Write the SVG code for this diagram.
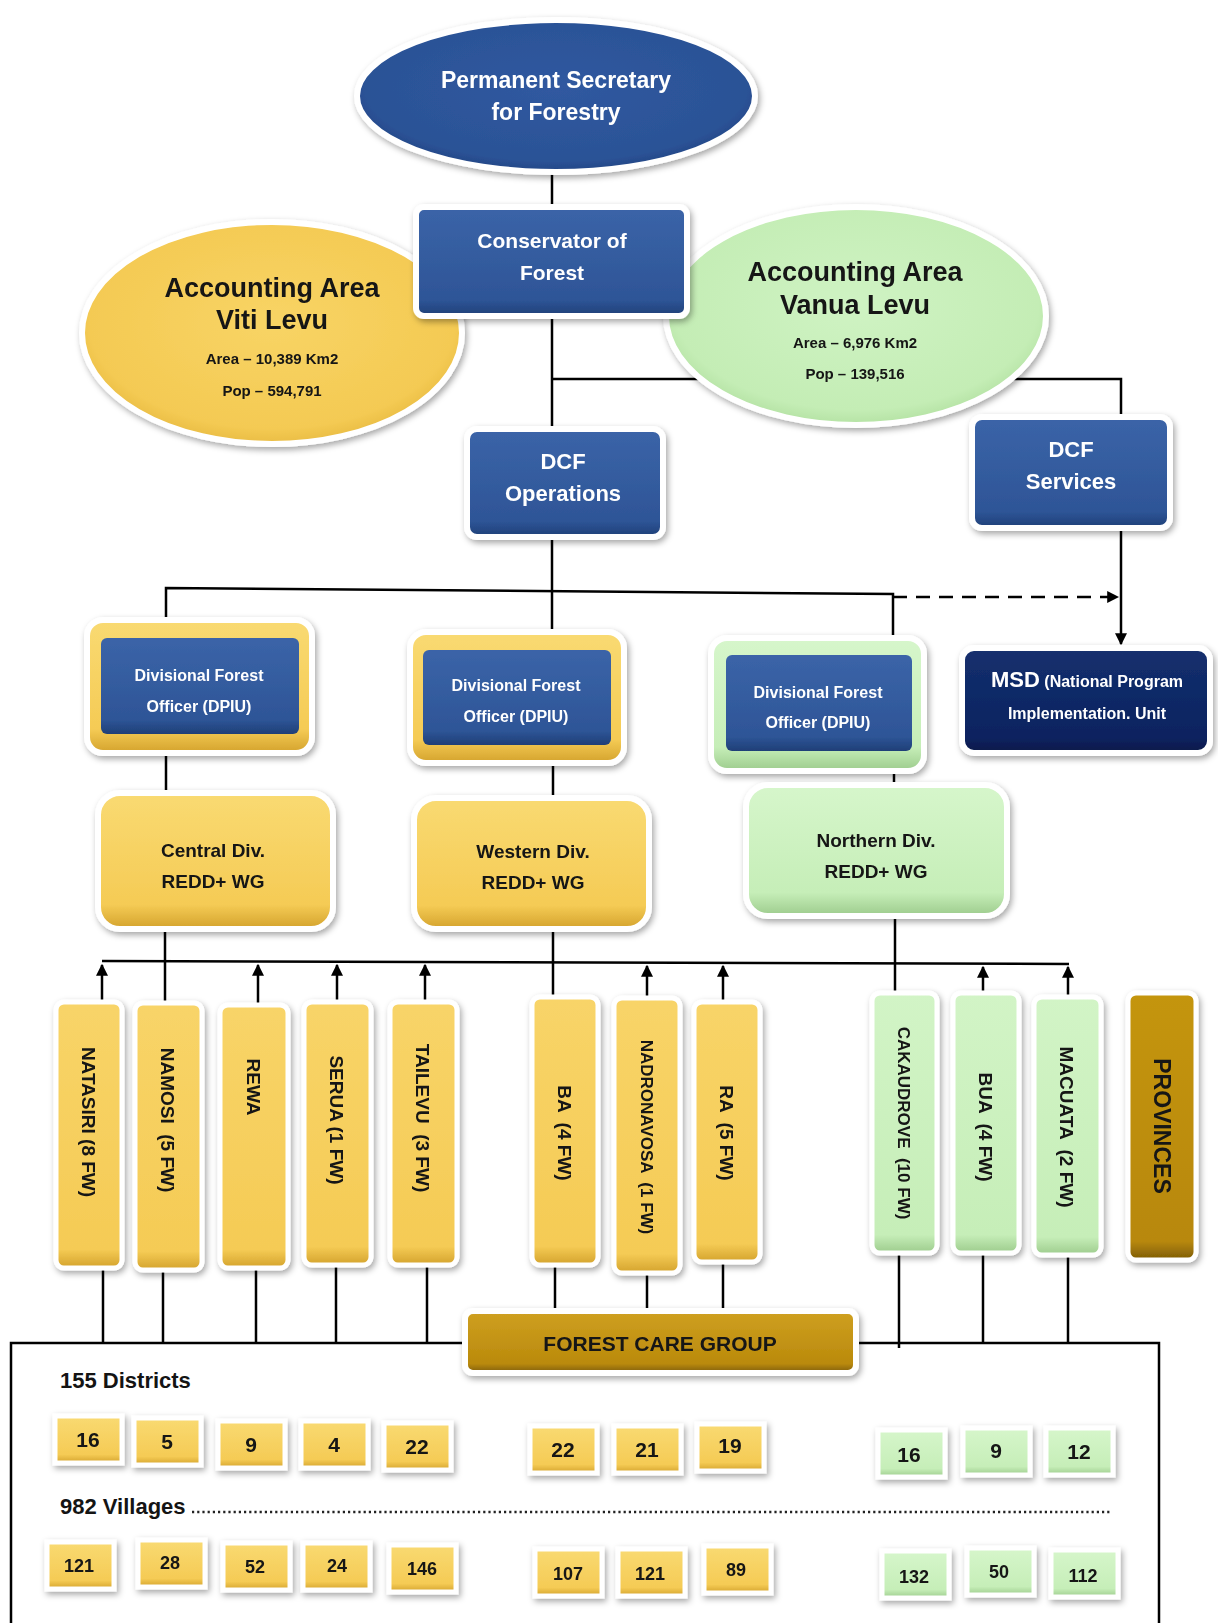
<svg xmlns="http://www.w3.org/2000/svg" width="1218" height="1623" viewBox="0 0 1218 1623">
<defs>
<style>
.t{font-family:"Liberation Sans",Arial,sans-serif;font-weight:bold;text-anchor:middle}
.w{fill:#ffffff}
.k{fill:#141414}
.ln{stroke:#000;stroke-width:2.5;fill:none}
.bd{stroke:#ffffff;stroke-width:6}
.bx{stroke:#ffffff;stroke-width:5}
</style>
<filter id="sh" x="-20%" y="-20%" width="140%" height="140%">
<feDropShadow dx="2" dy="3" stdDeviation="3" flood-color="#000" flood-opacity="0.35"/>
</filter>
<linearGradient id="gBlue" x1="0" y1="0" x2="0" y2="1">
<stop offset="0" stop-color="#3B64A8"/><stop offset="0.85" stop-color="#2E5597"/><stop offset="1" stop-color="#1F3F77"/>
</linearGradient>
<linearGradient id="gNavy" x1="0" y1="0" x2="0" y2="1">
<stop offset="0" stop-color="#14306E"/><stop offset="0.85" stop-color="#0B2360"/><stop offset="1" stop-color="#061848"/>
</linearGradient>
<linearGradient id="gYel" x1="0" y1="0" x2="0" y2="1">
<stop offset="0" stop-color="#F9DA72"/><stop offset="0.82" stop-color="#F5CB55"/><stop offset="1" stop-color="#D3A22C"/>
</linearGradient>
<linearGradient id="gYelT" x1="0" y1="0" x2="0" y2="1">
<stop offset="0" stop-color="#F8D468"/><stop offset="0.93" stop-color="#F5CB55"/><stop offset="1" stop-color="#D3A22C"/>
</linearGradient>
<linearGradient id="gGrn" x1="0" y1="0" x2="0" y2="1">
<stop offset="0" stop-color="#D6F6CB"/><stop offset="0.82" stop-color="#C6EEB8"/><stop offset="1" stop-color="#9CCB8C"/>
</linearGradient>
<linearGradient id="gGrnT" x1="0" y1="0" x2="0" y2="1">
<stop offset="0" stop-color="#D2F4C6"/><stop offset="0.93" stop-color="#C6EEB8"/><stop offset="1" stop-color="#9CCB8C"/>
</linearGradient>
<linearGradient id="gGold" x1="0" y1="0" x2="0" y2="1">
<stop offset="0" stop-color="#CFA021"/><stop offset="0.85" stop-color="#BA8A0C"/><stop offset="1" stop-color="#7C5B05"/>
</linearGradient>
<linearGradient id="gGoldT" x1="0" y1="0" x2="0" y2="1">
<stop offset="0" stop-color="#C4950F"/><stop offset="0.93" stop-color="#B8880B"/><stop offset="1" stop-color="#7C5B05"/>
</linearGradient>
<radialGradient id="rBlue" cx="0.5" cy="0.45" r="0.6">
<stop offset="0" stop-color="#3059A0"/><stop offset="0.8" stop-color="#2B5296"/><stop offset="1" stop-color="#1E3E78"/>
</radialGradient>
<radialGradient id="rYel" cx="0.5" cy="0.45" r="0.6">
<stop offset="0" stop-color="#F8D465"/><stop offset="0.8" stop-color="#F4CA53"/><stop offset="1" stop-color="#E2B33A"/>
</radialGradient>
<radialGradient id="rGrn" cx="0.5" cy="0.45" r="0.6">
<stop offset="0" stop-color="#CFF3C3"/><stop offset="0.8" stop-color="#C4EDB5"/><stop offset="1" stop-color="#A9DA97"/>
</radialGradient>
<marker id="arr" viewBox="0 0 10 10" refX="9" refY="5" markerUnits="userSpaceOnUse" markerWidth="12" markerHeight="12" orient="auto">
<path d="M0,0 L10,5 L0,10 z" fill="#000"/>
</marker>
</defs>
<rect width="1218" height="1623" fill="#ffffff"/>

<g id="connectors">
<line class="ln" x1="552" y1="170" x2="552" y2="207"/>
<line class="ln" x1="552" y1="316" x2="552" y2="429"/>
<polyline class="ln" points="552,379 1121,379 1121,417"/>
<line class="ln" x1="552" y1="537" x2="552" y2="632"/>
<polyline class="ln" points="166,620 166,588 893,594 893,638" stroke-width="3"/>
<line class="ln" x1="893" y1="597" x2="1118" y2="597" stroke-width="4" stroke-dasharray="14 9" marker-end="url(#arr)"/>
<line class="ln" x1="1121" y1="528" x2="1121" y2="644" marker-end="url(#arr)"/>
<line class="ln" x1="166" y1="753" x2="166" y2="793"/>
<line class="ln" x1="553" y1="763" x2="553" y2="798"/>
<line class="ln" x1="894" y1="771" x2="894" y2="785"/>
<line class="ln" x1="165" y1="929" x2="165" y2="1003"/>
<line class="ln" x1="553" y1="929" x2="553" y2="998"/>
<line class="ln" x1="895" y1="916" x2="895" y2="993"/>
<line class="ln" x1="102" y1="961" x2="1069" y2="964" stroke-width="3.5"/>
<line class="ln" x1="102" y1="1002" x2="102" y2="965" marker-end="url(#arr)"/>
<line class="ln" x1="258" y1="1004" x2="258" y2="965" marker-end="url(#arr)"/>
<line class="ln" x1="337" y1="1002" x2="337" y2="965" marker-end="url(#arr)"/>
<line class="ln" x1="425" y1="1002" x2="425" y2="965" marker-end="url(#arr)"/>
<line class="ln" x1="647" y1="998" x2="647" y2="966" marker-end="url(#arr)"/>
<line class="ln" x1="723" y1="1002" x2="723" y2="966" marker-end="url(#arr)"/>
<line class="ln" x1="983" y1="993" x2="983" y2="967" marker-end="url(#arr)"/>
<line class="ln" x1="1068" y1="997" x2="1068" y2="967" marker-end="url(#arr)"/>
<line class="ln" x1="103" y1="1268" x2="103" y2="1343"/>
<line class="ln" x1="163" y1="1270" x2="163" y2="1343"/>
<line class="ln" x1="256" y1="1268" x2="256" y2="1343"/>
<line class="ln" x1="336" y1="1265" x2="336" y2="1343"/>
<line class="ln" x1="427" y1="1265" x2="427" y2="1343"/>
<line class="ln" x1="555" y1="1265" x2="555" y2="1312"/>
<line class="ln" x1="647" y1="1273" x2="647" y2="1312"/>
<line class="ln" x1="723" y1="1262" x2="723" y2="1312"/>
<line class="ln" x1="899" y1="1253" x2="899" y2="1348"/>
<line class="ln" x1="983" y1="1253" x2="983" y2="1343"/>
<line class="ln" x1="1068" y1="1255" x2="1068" y2="1343"/>
<path class="ln" d="M11,1640 L11,1343 L1159,1343 L1159,1640"/>
</g>

<g id="viti-levu" filter="url(#sh)">
<ellipse cx="272" cy="333" rx="190" ry="111" fill="url(#rYel)" class="bd"/>
<text class="t k" x="272" y="297" font-size="27">Accounting Area</text>
<text class="t k" x="272" y="329" font-size="27">Viti Levu</text>
<text class="t k" x="272" y="364" font-size="15">Area – 10,389 Km2</text>
<text class="t k" x="272" y="396" font-size="15">Pop – 594,791</text>
</g>
<g id="vanua-levu" filter="url(#sh)">
<ellipse cx="856" cy="316" rx="190" ry="109" fill="url(#rGrn)" class="bd"/>
<text class="t k" x="855" y="281" font-size="27">Accounting Area</text>
<text class="t k" x="855" y="314" font-size="27">Vanua Levu</text>
<text class="t k" x="855" y="348" font-size="15">Area – 6,976 Km2</text>
<text class="t k" x="855" y="379" font-size="15">Pop – 139,516</text>
</g>
<g id="perm-sec" filter="url(#sh)">
<ellipse cx="556" cy="96" rx="199" ry="76" fill="url(#rBlue)" class="bd"/>
<text class="t w" x="556" y="88" font-size="23">Permanent Secretary</text>
<text class="t w" x="556" y="120" font-size="23">for Forestry</text>
</g>
<g id="conservator" filter="url(#sh)">
<rect x="416" y="207" width="271" height="109" rx="8" fill="url(#gBlue)" class="bd"/>
<text class="t w" x="552" y="248" font-size="21">Conservator of</text>
<text class="t w" x="552" y="280" font-size="21">Forest</text>
</g>
<g id="dcf-operations" filter="url(#sh)">
<rect x="467" y="429" width="196" height="108" rx="10" fill="url(#gBlue)" class="bd"/>
<text class="t w" x="563" y="469" font-size="22">DCF</text>
<text class="t w" x="563" y="501" font-size="22">Operations</text>
</g>
<g id="dcf-services" filter="url(#sh)">
<rect x="972" y="417" width="198" height="111" rx="10" fill="url(#gBlue)" class="bd"/>
<text class="t w" x="1071" y="457" font-size="22">DCF</text>
<text class="t w" x="1071" y="489" font-size="22">Services</text>
</g>
<g id="msd" filter="url(#sh)">
<rect x="962" y="648" width="248" height="105" rx="12" fill="url(#gNavy)" class="bd"/>
<text class="t w" x="1087" y="687" font-size="16"><tspan font-size="22">MSD</tspan> (National Program</text>
<text class="t w" x="1087" y="719" font-size="16">Implementation. Unit</text>
</g>
<g id="dfo-central" filter="url(#sh)">
<rect x="87" y="620" width="225" height="133" rx="16" fill="url(#gYel)" class="bd"/>
<rect x="101" y="638" width="198" height="96" rx="6" fill="url(#gBlue)"/>
<text class="t w" x="199" y="681" font-size="16">Divisional Forest</text>
<text class="t w" x="199" y="712" font-size="16">Officer (DPIU)</text>
</g>
<g id="dfo-western" filter="url(#sh)">
<rect x="410" y="632" width="214" height="131" rx="16" fill="url(#gYel)" class="bd"/>
<rect x="423" y="650" width="188" height="95" rx="6" fill="url(#gBlue)"/>
<text class="t w" x="516" y="691" font-size="16">Divisional Forest</text>
<text class="t w" x="516" y="722" font-size="16">Officer (DPIU)</text>
</g>
<g id="dfo-northern" filter="url(#sh)">
<rect x="711" y="638" width="213" height="133" rx="16" fill="url(#gGrn)" class="bd"/>
<rect x="726" y="655" width="186" height="96" rx="6" fill="url(#gBlue)"/>
<text class="t w" x="818" y="698" font-size="16">Divisional Forest</text>
<text class="t w" x="818" y="728" font-size="16">Officer (DPIU)</text>
</g>
<g id="central-div" filter="url(#sh)">
<rect x="98" y="793" width="235" height="136" rx="22" fill="url(#gYel)" class="bd"/>
<text class="t k" x="213" y="857" font-size="19">Central Div.</text>
<text class="t k" x="213" y="888" font-size="19">REDD+ WG</text>
</g>
<g id="western-div" filter="url(#sh)">
<rect x="414" y="798" width="235" height="131" rx="22" fill="url(#gYel)" class="bd"/>
<text class="t k" x="533" y="858" font-size="19">Western Div.</text>
<text class="t k" x="533" y="889" font-size="19">REDD+ WG</text>
</g>
<g id="northern-div" filter="url(#sh)">
<rect x="746" y="785" width="261" height="131" rx="22" fill="url(#gGrn)" class="bd"/>
<text class="t k" x="876" y="847" font-size="19">Northern Div.</text>
<text class="t k" x="876" y="878" font-size="19">REDD+ WG</text>
</g>

<g id="natasiri" filter="url(#sh)">
<rect x="56" y="1002" width="66" height="266" rx="8" fill="url(#gYelT)" class="bx"/>
<text class="t k" font-size="19" transform="translate(89,1122) rotate(90)" y="7">NATASIRI (8 FW)</text>
</g>
<g id="namosi" filter="url(#sh)">
<rect x="135" y="1003" width="67" height="267" rx="8" fill="url(#gYelT)" class="bx"/>
<text class="t k" font-size="19" transform="translate(168,1120) rotate(90)" y="7" xml:space="preserve">NAMOSI  (5 FW)</text>
</g>
<g id="rewa" filter="url(#sh)">
<rect x="220" y="1005" width="68" height="263" rx="8" fill="url(#gYelT)" class="bx"/>
<text class="t k" font-size="19" transform="translate(254,1087) rotate(90)" y="7">REWA</text>
</g>
<g id="serua" filter="url(#sh)">
<rect x="304" y="1002" width="67" height="263" rx="8" fill="url(#gYelT)" class="bx"/>
<text class="t k" font-size="19" transform="translate(337,1120) rotate(90)" y="7">SERUA (1 FW)</text>
</g>
<g id="tailevu" filter="url(#sh)">
<rect x="390" y="1002" width="67" height="263" rx="8" fill="url(#gYelT)" class="bx"/>
<text class="t k" font-size="19" transform="translate(423,1118) rotate(90)" y="7" xml:space="preserve">TAILEVU  (3 FW)</text>
</g>
<g id="ba" filter="url(#sh)">
<rect x="532" y="997" width="66" height="268" rx="8" fill="url(#gYelT)" class="bx"/>
<text class="t k" font-size="19" transform="translate(565,1133) rotate(90)" y="7" xml:space="preserve">BA  (4 FW)</text>
</g>
<g id="nadronavosa" filter="url(#sh)">
<rect x="614" y="998" width="66" height="275" rx="8" fill="url(#gYelT)" class="bx"/>
<text class="t k" font-size="17" transform="translate(647,1137) rotate(90)" y="6" xml:space="preserve">NADRONAVOSA  (1 FW)</text>
</g>
<g id="ra" filter="url(#sh)">
<rect x="694" y="1002" width="66" height="260" rx="8" fill="url(#gYelT)" class="bx"/>
<text class="t k" font-size="19" transform="translate(727,1133) rotate(90)" y="7" xml:space="preserve">RA  (5 FW)</text>
</g>
<g id="cakaudrove" filter="url(#sh)">
<rect x="872" y="993" width="65" height="260" rx="8" fill="url(#gGrnT)" class="bx"/>
<text class="t k" font-size="17" transform="translate(904,1123) rotate(90)" y="6" xml:space="preserve">CAKAUDROVE  (10 FW)</text>
</g>
<g id="bua" filter="url(#sh)">
<rect x="953" y="993" width="66" height="260" rx="8" fill="url(#gGrnT)" class="bx"/>
<text class="t k" font-size="19" transform="translate(986,1127) rotate(90)" y="7" xml:space="preserve">BUA  (4 FW)</text>
</g>
<g id="macuata" filter="url(#sh)">
<rect x="1034" y="997" width="67" height="258" rx="8" fill="url(#gGrnT)" class="bx"/>
<text class="t k" font-size="19" transform="translate(1067,1127) rotate(90)" y="7" xml:space="preserve">MACUATA  (2 FW)</text>
</g>
<g id="provinces" filter="url(#sh)">
<rect x="1128" y="993" width="68" height="267" rx="8" fill="url(#gGoldT)" class="bx"/>
<text class="t k" font-size="23" transform="translate(1162,1126) rotate(90)" y="8">PROVINCES</text>
</g>

<g id="forest-care-group" filter="url(#sh)">
<rect x="465" y="1311" width="391" height="62" rx="8" fill="url(#gGold)" class="bd"/>
<text class="t k" x="660" y="1351" font-size="21">FOREST CARE GROUP</text>
</g>

<g id="districts-label">
<text class="t k" x="60" y="1388" font-size="22" style="text-anchor:start">155 Districts</text>
</g>
<g id="villages-label">
<text class="t k" x="60" y="1514" font-size="22" style="text-anchor:start">982 Villages</text>
<line x1="192" y1="1512" x2="1110" y2="1512" stroke="#222" stroke-width="2.4" stroke-dasharray="2.2 3"/>
</g>

<g id="district-counts" filter="url(#sh)">
<g id="d-natasiri"><rect x="55" y="1416" width="67" height="47" fill="url(#gYel)" class="bx"/><text class="t k" x="88" y="1447" font-size="21">16</text></g>
<g id="d-namosi"><rect x="134" y="1418" width="67" height="47" fill="url(#gYel)" class="bx"/><text class="t k" x="167" y="1449" font-size="21">5</text></g>
<g id="d-rewa"><rect x="218" y="1421" width="67" height="47" fill="url(#gYel)" class="bx"/><text class="t k" x="251" y="1452" font-size="21">9</text></g>
<g id="d-serua"><rect x="301" y="1421" width="67" height="47" fill="url(#gYel)" class="bx"/><text class="t k" x="334" y="1452" font-size="21">4</text></g>
<g id="d-tailevu"><rect x="384" y="1423" width="67" height="47" fill="url(#gYel)" class="bx"/><text class="t k" x="417" y="1454" font-size="21">22</text></g>
<g id="d-ba"><rect x="530" y="1426" width="67" height="47" fill="url(#gYel)" class="bx"/><text class="t k" x="563" y="1457" font-size="21">22</text></g>
<g id="d-nadronavosa"><rect x="614" y="1426" width="67" height="47" fill="url(#gYel)" class="bx"/><text class="t k" x="647" y="1457" font-size="21">21</text></g>
<g id="d-ra"><rect x="697" y="1424" width="67" height="47" fill="url(#gYel)" class="bx"/><text class="t k" x="730" y="1453" font-size="21">19</text></g>
<g id="d-cakaudrove"><rect x="878" y="1430" width="67" height="47" fill="url(#gGrn)" class="bx"/><text class="t k" x="909" y="1462" font-size="21">16</text></g>
<g id="d-bua"><rect x="963" y="1428" width="67" height="47" fill="url(#gGrn)" class="bx"/><text class="t k" x="996" y="1458" font-size="21">9</text></g>
<g id="d-macuata"><rect x="1046" y="1428" width="67" height="47" fill="url(#gGrn)" class="bx"/><text class="t k" x="1079" y="1459" font-size="21">12</text></g>
</g>

<g id="village-counts" filter="url(#sh)">
<g id="v-natasiri"><rect x="47" y="1542" width="67" height="47" fill="url(#gYel)" class="bx"/><text class="t k" x="79" y="1572" font-size="18">121</text></g>
<g id="v-namosi"><rect x="138" y="1540" width="67" height="47" fill="url(#gYel)" class="bx"/><text class="t k" x="170" y="1569" font-size="18">28</text></g>
<g id="v-rewa"><rect x="223" y="1543" width="67" height="47" fill="url(#gYel)" class="bx"/><text class="t k" x="255" y="1573" font-size="18">52</text></g>
<g id="v-serua"><rect x="303" y="1543" width="67" height="47" fill="url(#gYel)" class="bx"/><text class="t k" x="337" y="1572" font-size="18">24</text></g>
<g id="v-tailevu"><rect x="389" y="1545" width="67" height="47" fill="url(#gYel)" class="bx"/><text class="t k" x="422" y="1575" font-size="18">146</text></g>
<g id="v-ba"><rect x="535" y="1549" width="67" height="47" fill="url(#gYel)" class="bx"/><text class="t k" x="568" y="1580" font-size="18">107</text></g>
<g id="v-nadronavosa"><rect x="618" y="1549" width="67" height="47" fill="url(#gYel)" class="bx"/><text class="t k" x="650" y="1580" font-size="18">121</text></g>
<g id="v-ra"><rect x="704" y="1546" width="67" height="47" fill="url(#gYel)" class="bx"/><text class="t k" x="736" y="1576" font-size="18">89</text></g>
<g id="v-cakaudrove"><rect x="882" y="1551" width="67" height="47" fill="url(#gGrn)" class="bx"/><text class="t k" x="914" y="1583" font-size="18">132</text></g>
<g id="v-bua"><rect x="967" y="1548" width="67" height="47" fill="url(#gGrn)" class="bx"/><text class="t k" x="999" y="1578" font-size="18">50</text></g>
<g id="v-macuata"><rect x="1051" y="1550" width="67" height="47" fill="url(#gGrn)" class="bx"/><text class="t k" x="1083" y="1582" font-size="18">112</text></g>
</g>
</svg>
